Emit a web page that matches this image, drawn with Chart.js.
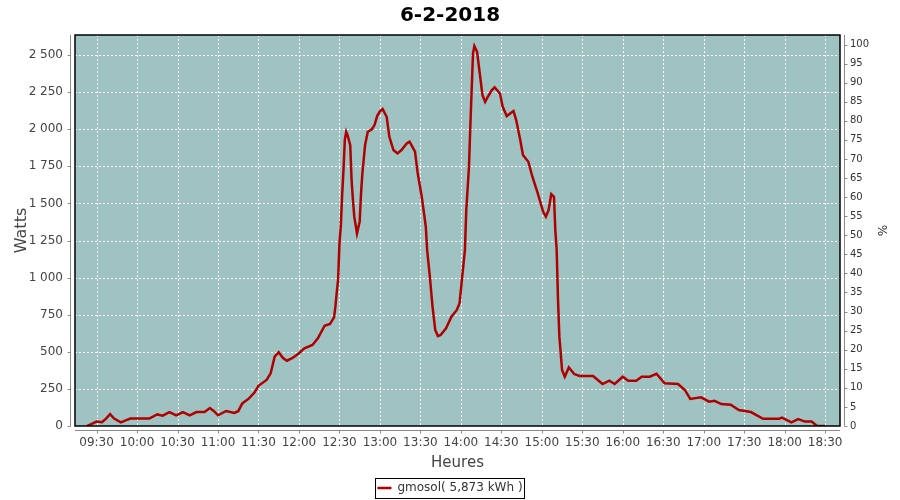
<!DOCTYPE html>
<html>
<head>
<meta charset="utf-8">
<script src="https://cdn.jsdelivr.net/npm/chart.js@4/dist/chart.umd.min.js"></script>
<style>
  html, body { margin: 0; padding: 0; background: #fff; }
  #wrap { width: 900px; height: 500px; }
</style>
</head>
<body>
<div id="wrap"><canvas id="chart"></canvas></div>
<script>
const chartTitle = '6-2-2018';
const seriesName = 'gmosol( 5,873 kWh )';

const times = [
  '09:23', '09:26', '09:30', '09:34', '09:37', '09:40', '09:43', '09:48', '09:52', '09:55',
  '10:00', '10:09', '10:15', '10:19', '10:24', '10:29', '10:34', '10:39', '10:44', '10:50',
  '10:54', '10:57', '11:00', '11:06', '11:12', '11:15', '11:18', '11:23', '11:27', '11:30',
  '11:36', '11:39', '11:42', '11:45', '11:48', '11:51', '11:55', '12:00', '12:04', '12:10',
  '12:14', '12:19', '12:23', '12:26', '12:27', '12:28', '12:29', '12:30', '12:31', '12:32',
  '12:33', '12:34', '12:35', '12:36', '12:38', '12:39', '12:40', '12:41', '12:43', '12:45',
  '12:46', '12:47', '12:49', '12:51', '12:54', '12:56', '12:58', '13:00', '13:02', '13:05',
  '13:07', '13:10', '13:13', '13:16', '13:20', '13:22', '13:26', '13:28', '13:31', '13:32',
  '13:34', '13:35', '13:37', '13:39', '13:41', '13:43', '13:45', '13:49', '13:53', '13:57',
  '13:59', '14:01', '14:03', '14:04', '14:06', '14:07', '14:08', '14:09', '14:10', '14:12',
  '14:14', '14:16', '14:18', '14:20', '14:23', '14:25', '14:29', '14:31', '14:34', '14:37',
  '14:39', '14:41', '14:44', '14:46', '14:50', '14:53', '14:57', '15:01', '15:03', '15:05',
  '15:07', '15:09', '15:10', '15:11', '15:12', '15:13', '15:15', '15:17', '15:20', '15:24',
  '15:28', '15:38', '15:45', '15:50', '15:54', '16:00', '16:04', '16:10', '16:14', '16:20',
  '16:25', '16:31', '16:41', '16:46', '16:50', '16:58', '17:04', '17:08', '17:13', '17:20',
  '17:26', '17:35', '17:44', '17:56', '17:58', '18:05', '18:10', '18:15', '18:20', '18:24',
  '18:30'
];

const watts = [
  0, 12, 30, 25, 50, 80, 50, 25, 40, 50,
  50, 50, 78, 70, 94, 72, 94, 72, 94, 94,
  121, 100, 72, 101, 88, 100, 152, 186, 225, 271,
  310, 355, 467, 497, 460, 440, 457, 490, 523, 546,
  591, 676, 687, 732, 804, 900, 984, 1231, 1343, 1557,
  1725, 1930, 1983, 1960, 1893, 1658, 1523, 1411, 1298, 1377,
  1568, 1703, 1893, 1983, 2000, 2028, 2090, 2120, 2136, 2084,
  1949, 1860, 1837, 1860, 1905, 1916, 1849, 1703, 1545, 1478,
  1343, 1186, 1006, 804, 647, 606, 613, 658, 737, 782,
  827, 1006, 1186, 1455, 1747, 2017, 2264, 2511, 2561, 2522,
  2376, 2230, 2185, 2219, 2264, 2282, 2241, 2151, 2089, 2110,
  2123, 2062, 1927, 1826, 1781, 1680, 1568, 1444, 1411, 1455,
  1563, 1545, 1321, 1186, 849, 602, 377, 332, 395, 350,
  337, 337, 283, 305, 283, 332, 305, 305, 332, 332,
  352, 288, 283, 243, 182, 193, 164, 170, 148, 144,
  108, 94, 49, 49, 56, 25, 47, 30, 30, 0,
  0
];

const timeTicks = ['09:30', '10:00', '10:30', '11:00', '11:30', '12:00', '12:30', '13:00', '13:30',
  '14:00', '14:30', '15:00', '15:30', '16:00', '16:30', '17:00', '17:30', '18:00', '18:30'];
const wattTicks = [0, 250, 500, 750, 1000, 1250, 1500, 1750, 2000, 2250, 2500];
const percentTicks = [0, 5, 10, 15, 20, 25, 30, 35, 40, 45, 50, 55, 60, 65, 70, 75, 80, 85, 90, 95, 100];

function toMinutes(t) {
  const p = t.split(':');
  return parseInt(p[0]) * 60 + parseInt(p[1]);
}

function formatTime(m) {
  const h = Math.floor(m / 60);
  const mm = Math.round(m % 60);
  return String(h).padStart(2, '0') + ':' + String(mm).padStart(2, '0');
}

function formatWatts(v) {
  return String(v).replace(/\B(?=(\d{3})+(?!\d))/g, ' ');
}

const points = times.map((t, i) => ({ x: toMinutes(t), y: watts[i] }));

const tickFont = { family: 'DejaVu Sans', size: 12 };
const axisGrey = '#888888';

// plot background + dashed grid, black frame, offset grey axis lines, legend border
const framePlugin = {
  id: 'frame',
  beforeDraw(chart) {
    const { ctx, chartArea: a } = chart;
    ctx.save();
    ctx.fillStyle = '#ffffff';
    ctx.fillRect(0, 0, chart.width, chart.height);
    ctx.fillStyle = '#9ec3c2';
    ctx.fillRect(a.left, a.top, a.right - a.left, a.bottom - a.top);
    ctx.restore();
  },
  beforeDatasetsDraw(chart) {
    const { ctx, chartArea: a, scales } = chart;
    ctx.save();
    ctx.strokeStyle = '#ffffff';
    ctx.lineWidth = 1;
    ctx.setLineDash([2, 2]);
    ctx.beginPath();
    wattTicks.forEach(v => {
      const y = Math.round(scales.y.getPixelForValue(v)) + 0.5;
      ctx.moveTo(a.left, y);
      ctx.lineTo(a.right, y);
    });
    timeTicks.forEach(t => {
      const x = Math.round(scales.x.getPixelForValue(toMinutes(t))) + 0.5;
      ctx.moveTo(x, a.top);
      ctx.lineTo(x, a.bottom);
    });
    ctx.stroke();
    ctx.restore();
  },
  afterDraw(chart) {
    const { ctx, chartArea: a, scales } = chart;
    ctx.save();
    ctx.strokeStyle = '#000';
    ctx.lineWidth = 1.5;
    ctx.strokeRect(a.left, a.top, a.right - a.left, a.bottom - a.top);

    ctx.strokeStyle = axisGrey;
    ctx.lineWidth = 1;
    ctx.beginPath();
    ctx.moveTo(a.left - 4.5, a.top);
    ctx.lineTo(a.left - 4.5, a.bottom);
    ctx.moveTo(a.right + 4.5, a.top);
    ctx.lineTo(a.right + 4.5, a.bottom);
    ctx.moveTo(a.left, a.bottom + 4.5);
    ctx.lineTo(a.right, a.bottom + 4.5);
    wattTicks.forEach(v => {
      const y = Math.round(scales.y.getPixelForValue(v)) + 0.5;
      ctx.moveTo(a.left - 4.5, y);
      ctx.lineTo(a.left - 7.5, y);
    });
    percentTicks.forEach(v => {
      const y = Math.round(scales.y2.getPixelForValue(v)) + 0.5;
      ctx.moveTo(a.right + 4.5, y);
      ctx.lineTo(a.right + 7.5, y);
    });
    timeTicks.forEach(t => {
      const x = Math.round(scales.x.getPixelForValue(toMinutes(t))) + 0.5;
      ctx.moveTo(x, a.bottom + 4.5);
      ctx.lineTo(x, a.bottom + 7.5);
    });
    ctx.stroke();

    const hb = chart.legend.legendHitBoxes[0];
    if (hb) {
      const cy = hb.top + hb.height / 2;
      ctx.strokeStyle = '#000';
      ctx.lineWidth = 1;
      ctx.strokeRect(Math.round(hb.left - 2) + 0.5, Math.round(cy - 10) + 0.5, Math.round(hb.width + 4), 20);
    }
    ctx.restore();
  }
};

new Chart(document.getElementById('chart'), {
  type: 'line',
  data: {
    datasets: [{
      label: seriesName,
      data: points,
      borderColor: '#b00000',
      backgroundColor: '#b00000',
      borderWidth: 2.5,
      pointRadius: 0,
      pointStyle: 'line',
      tension: 0,
      yAxisID: 'y'
    }]
  },
  options: {
    responsive: true,
    maintainAspectRatio: false,
    animation: false,
    layout: { padding: { left: 0, right: 0, top: 0, bottom: -4 } },
    plugins: {
      title: {
        display: true,
        text: chartTitle,
        color: '#000',
        font: { family: 'DejaVu Sans', size: 20, weight: 'bold' },
        padding: { top: 4, bottom: 7 }
      },
      legend: {
        position: 'bottom',
        labels: {
          usePointStyle: true,
          pointStyleWidth: 14,
          boxHeight: 12,
          padding: 10,
          color: '#333',
          font: tickFont
        }
      },
      tooltip: { enabled: false }
    },
    scales: {
      x: {
        type: 'linear',
        min: toMinutes('09:14'),
        max: 1121,
        afterBuildTicks: axis => { axis.ticks = timeTicks.map(t => ({ value: toMinutes(t) })); },
        afterFit: axis => { axis.height = 46; },
        ticks: {
          padding: 10,
          color: '#444',
          font: tickFont,
          maxRotation: 0,
          autoSkip: false,
          callback: v => formatTime(v)
        },
        grid: { display: false, drawTicks: false },
        border: { display: false },
        title: {
          display: true,
          text: 'Heures',
          color: '#444',
          font: { family: 'DejaVu Sans', size: 15 },
          padding: { top: 0, bottom: 0 }
        }
      },
      y: {
        position: 'left',
        min: 0,
        max: 2635,
        afterBuildTicks: axis => { axis.ticks = wattTicks.map(v => ({ value: v })); },
        afterFit: axis => { axis.width = 75; },
        ticks: {
          padding: 12,
          color: '#444',
          font: tickFont,
          callback: v => formatWatts(v)
        },
        grid: { display: false, drawTicks: false },
        border: { display: false },
        title: {
          display: true,
          text: 'Watts',
          color: '#444',
          font: { family: 'DejaVu Sans', size: 16 },
          padding: { top: 12, bottom: 0 }
        }
      },
      y2: {
        position: 'right',
        min: 0,
        max: 102.5,
        afterBuildTicks: axis => { axis.ticks = percentTicks.map(v => ({ value: v })); },
        afterFit: axis => { axis.width = 60; },
        ticks: {
          padding: 10,
          color: '#333',
          font: { family: 'DejaVu Sans', size: 10 },
          callback: v => String(v)
        },
        grid: { display: false, drawOnChartArea: false, drawTicks: false },
        border: { display: false },
        title: {
          display: true,
          text: '%',
          color: '#333',
          font: { family: 'DejaVu Sans', size: 12 },
          padding: { top: 12, bottom: 0 }
        }
      }
    }
  },
  plugins: [framePlugin]
});
</script>
</body>
</html>
